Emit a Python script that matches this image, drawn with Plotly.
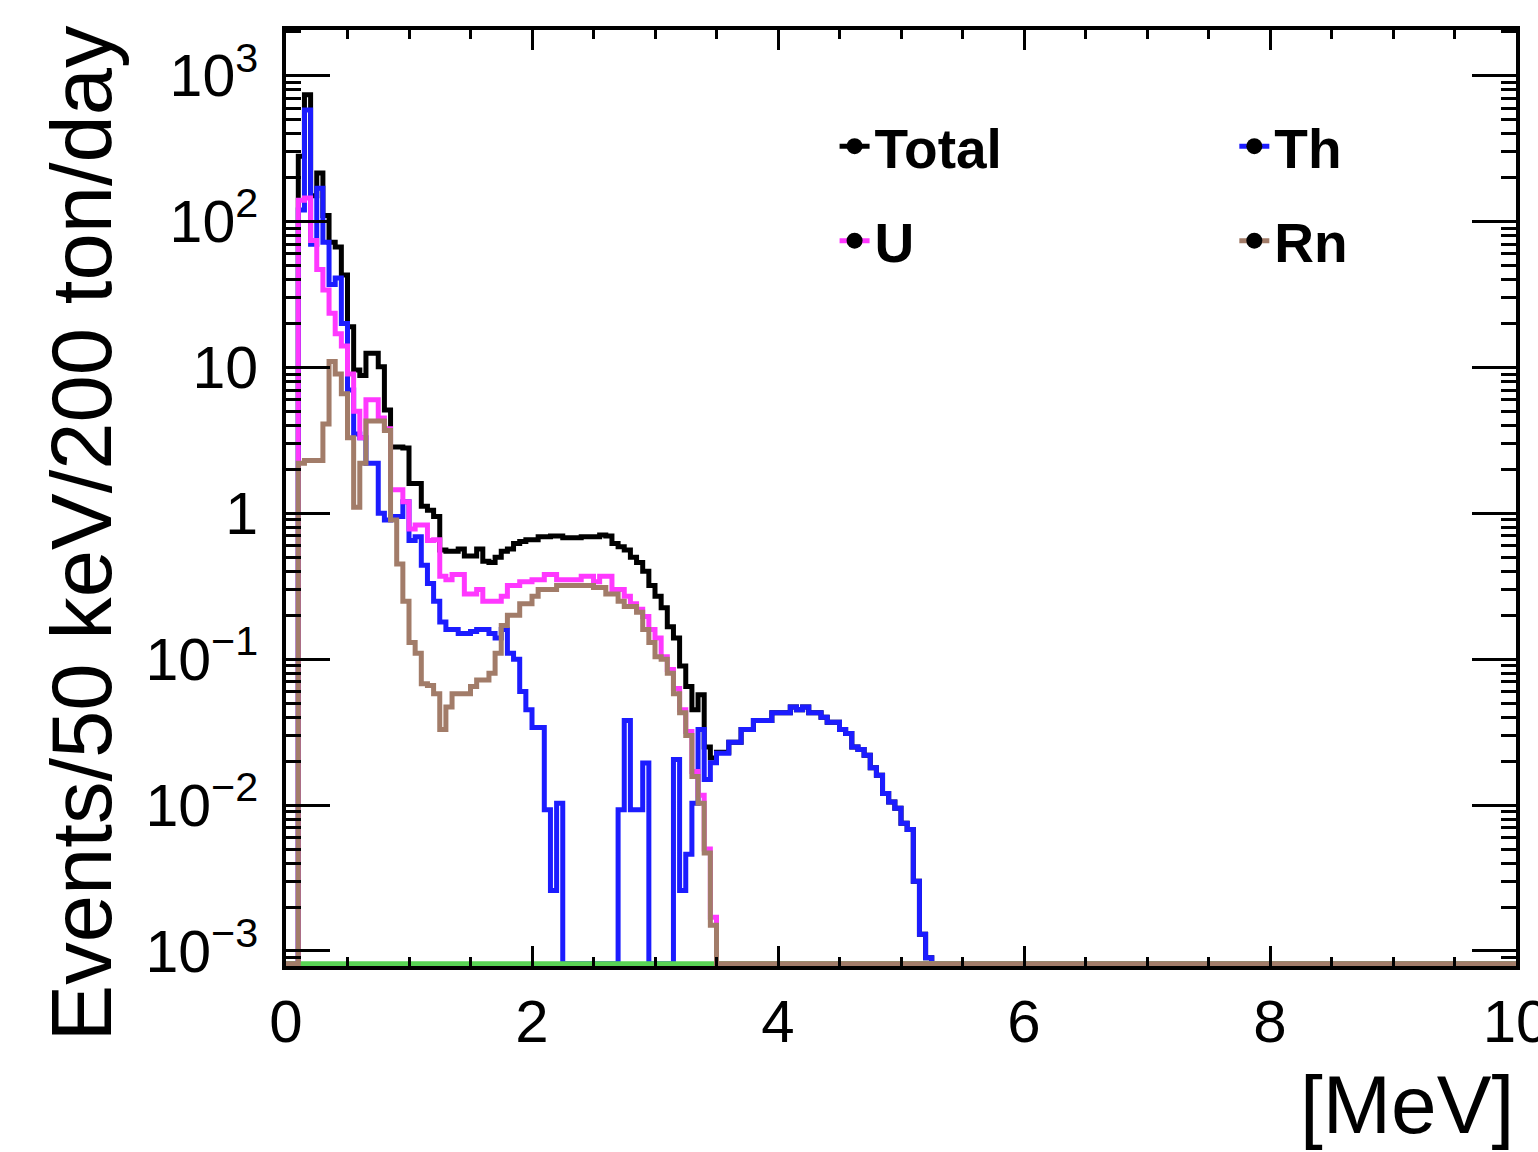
import numpy as np
import plotly.graph_objects as go

# ---------------- data (Events / 50 keV / 200 ton / day) ----------------
BIN_WIDTH = 0.05          # MeV
N_BINS = 200              # 0 - 10 MeV
START_E = 0.10            # first filled bin (MeV)

total = [280, 740, 150, 215, 110, 72, 67, 43, 19, 9.6,
         8.8, 12.5, 12.5, 10.1, 5.1, 2.85, 2.85, 2.8, 1.6, 1.6,
         1.12, 1.05, 0.95, 0.56, 0.55, 0.55, 0.57, 0.51, 0.51, 0.57,
         0.47, 0.46, 0.5, 0.55, 0.57, 0.62, 0.64, 0.66, 0.66, 0.69,
         0.69, 0.7, 0.7, 0.68, 0.68, 0.68, 0.69, 0.69, 0.69, 0.71,
         0.7, 0.62, 0.59, 0.56, 0.5, 0.46, 0.40, 0.32, 0.27, 0.225,
         0.167, 0.14, 0.09, 0.065, 0.045, 0.057, 0.025, 0.021, 0.023, 0.023,
         0.027, 0.027, 0.033, 0.033, 0.038, 0.038, 0.038, 0.043, 0.043, 0.043,
         0.047, 0.045, 0.047, 0.043, 0.043, 0.040, 0.037, 0.037, 0.033, 0.031,
         0.025, 0.024, 0.022, 0.018, 0.016, 0.012, 0.0105, 0.0095, 0.0075, 0.0068,
         0.003, 0.0013, 0.0009]

th = [120, 581, 70, 169, 72, 37, 41, 20, 7, 3.5,
      3.3, 2.2, 2.2, 1.0, 0.9, 0.95, 0.95, 1.2, 0.65, 0.69,
      0.44, 0.33, 0.25, 0.18, 0.16, 0.16, 0.15, 0.15, 0.155, 0.16,
      0.16, 0.15, 0.14, 0.16, 0.11, 0.1, 0.06, 0.045, 0.034, 0.034,
      0.0093, 0.0026, 0.0103, 0, 0, 0, 0, 0, 0, 0,
      0, 0, 0.0093, 0.038, 0.0093, 0.0093, 0.0194, 0, 0, 0,
      0, 0.0205, 0.0026, 0.0046, 0.0103, 0.033, 0.015, 0.0195, 0.0227, 0.0227,
      0.027, 0.027, 0.033, 0.033, 0.038, 0.038, 0.038, 0.043, 0.043, 0.043,
      0.047, 0.045, 0.047, 0.043, 0.043, 0.040, 0.037, 0.037, 0.033, 0.031,
      0.025, 0.024, 0.022, 0.018, 0.016, 0.012, 0.0105, 0.0095, 0.0075, 0.0068,
      0.003, 0.0013, 0.0009]

u = [140, 145, 74, 47, 34, 23.5, 17, 14, 9, 5,
     3.3, 6, 6, 4.5, 3.8, 1.45, 1.45, 1.2, 0.78, 0.83,
     0.83, 0.65, 0.66, 0.37, 0.35, 0.38, 0.38, 0.28, 0.28, 0.3,
     0.25, 0.25, 0.25, 0.27, 0.32, 0.32, 0.34, 0.34, 0.35, 0.35,
     0.38, 0.38, 0.35, 0.35, 0.35, 0.35, 0.37, 0.37, 0.34, 0.37,
     0.37, 0.30, 0.30, 0.27, 0.24, 0.22, 0.196, 0.16, 0.14, 0.104,
     0.085, 0.063, 0.045, 0.032, 0.017, 0.0117, 0.005, 0.0017]

rn = [2.2, 2.3, 2.3, 2.3, 4.1, 11, 9, 6.6, 3.3, 1.1,
      2.2, 4.3, 4.3, 4.3, 3.7, 0.9, 0.45, 0.25, 0.13, 0.11,
      0.068, 0.066, 0.058, 0.033, 0.047, 0.058, 0.058, 0.058, 0.065, 0.072,
      0.072, 0.08, 0.11, 0.17, 0.2, 0.2, 0.24, 0.24, 0.27, 0.3,
      0.3, 0.3, 0.32, 0.32, 0.32, 0.32, 0.32, 0.32, 0.31, 0.31,
      0.28, 0.28, 0.25, 0.23, 0.23, 0.21, 0.16, 0.13, 0.104, 0.1,
      0.08, 0.058, 0.043, 0.03, 0.0157, 0.0103, 0.0047, 0.0015]

other = []  # green component: empty everywhere (drawn on the frame floor)

y_tick_vals = [1e-3, 1e-2, 1e-1, 1, 10, 1e2, 1e3]
y_tick_text = ["10<sup>\u22123</sup>", "10<sup>\u22122</sup>", "10<sup>\u22121</sup>",
               "1", "10", "10<sup>2</sup>", "10<sup>3</sup>"]
x_tick_vals = [0, 2, 4, 6, 8, 10]

# ---------------- helpers ----------------
Y_LOG_MIN, Y_LOG_MAX = -3.103, 3.313
FLOOR = 10 ** (Y_LOG_MIN + 0.016)
edges = np.arange(N_BINS + 1) * BIN_WIDTH


def hist(vals):
    arr = np.zeros(N_BINS)
    s = int(round(START_E / BIN_WIDTH))
    arr[s:s + len(vals)] = vals
    arr = np.where(arr > FLOOR, arr, FLOOR)
    return np.append(arr, arr[-1])


C_TOTAL, C_TH, C_U, C_RN, C_GREEN = "#000000", "#1c1cff", "#ff38ff", "#a27c69", "#59d454"
LW = 5

fig = go.Figure()
for name, vals, col in [("Total", total, C_TOTAL), ("Th", th, C_TH), ("U", u, C_U),
                        ("other", other, C_GREEN), ("Rn", rn, C_RN)]:
    fig.add_trace(go.Scatter(x=edges, y=hist(vals), mode="lines", line_shape="hv",
                             line=dict(color=col, width=LW), showlegend=False,
                             hoverinfo="skip"))

# legend proxies (line + black dot)
legend_font = dict(family="Liberation Sans, Arial, sans-serif", size=55, color="black", weight="bold")
for name, col, lg in [("Total", C_TOTAL, "legend"), ("U", C_U, "legend"),
                      ("Th", C_TH, "legend2"), ("Rn", C_RN, "legend2")]:
    fig.add_trace(go.Scatter(x=[None], y=[None], mode="lines+markers", name=name,
                             line=dict(color=col, width=LW),
                             marker=dict(color="black", size=16),
                             legend=lg, legendgroup=name))

font_family = "Liberation Sans, Arial, sans-serif"
fig.update_layout(
    width=1538, height=1152,
    margin=dict(l=286, r=22, t=30, b=186, autoexpand=False),
    plot_bgcolor="white", paper_bgcolor="white",
    font=dict(family=font_family, color="black"),
    legend=dict(x=0.446, y=0.921, xanchor="left", yanchor="top", bgcolor="rgba(0,0,0,0)",
                font=legend_font, tracegroupgap=20, itemsizing="trace"),
    legend2=dict(x=0.771, y=0.921, xanchor="left", yanchor="top", bgcolor="rgba(0,0,0,0)",
                 font=legend_font, tracegroupgap=20, itemsizing="trace"),
    xaxis=dict(range=[0, 10], showgrid=False, zeroline=False, automargin=False,
               showline=True, linecolor="black", linewidth=4, mirror="allticks",
               ticks="inside", ticklen=20, tickwidth=3, tickcolor="black",
               tickmode="array", tickvals=x_tick_vals, ticklabeloverflow="allow",
               tickfont=dict(size=60, family=font_family), ticklabelstandoff=0,
               minor=dict(ticks="inside", ticklen=9, tickwidth=3, tickcolor="black", dtick=0.5)),
    yaxis=dict(type="log", range=[Y_LOG_MIN, Y_LOG_MAX], showgrid=False, zeroline=False,
               automargin=False,
               showline=True, linecolor="black", linewidth=4, mirror="allticks",
               ticks="inside", ticklen=44, tickwidth=3, tickcolor="black",
               tickmode="array", tickvals=y_tick_vals, ticktext=y_tick_text,
               tickfont=dict(size=59, family=font_family), ticklabelstandoff=12,
               minor=dict(ticks="inside", ticklen=15, tickwidth=3, tickcolor="black",
                          tickmode="array",
                          tickvals=[m * 10.0 ** k for k in range(-4, 4) for m in range(2, 10)])),
)

fig.add_annotation(text="Events/50 keV/200 ton/day", textangle=-90, showarrow=False,
                   xref="paper", yref="paper", x=-0.166, y=0.462,
                   xanchor="center", yanchor="middle",
                   font=dict(size=85, family=font_family, color="black"))
fig.add_annotation(text="[MeV]", showarrow=False, xref="paper", yref="paper",
                   x=1.0, y=-0.148, xanchor="right", yanchor="middle",
                   font=dict(size=82, family=font_family, color="black"))

fig.write_html("out.html")
